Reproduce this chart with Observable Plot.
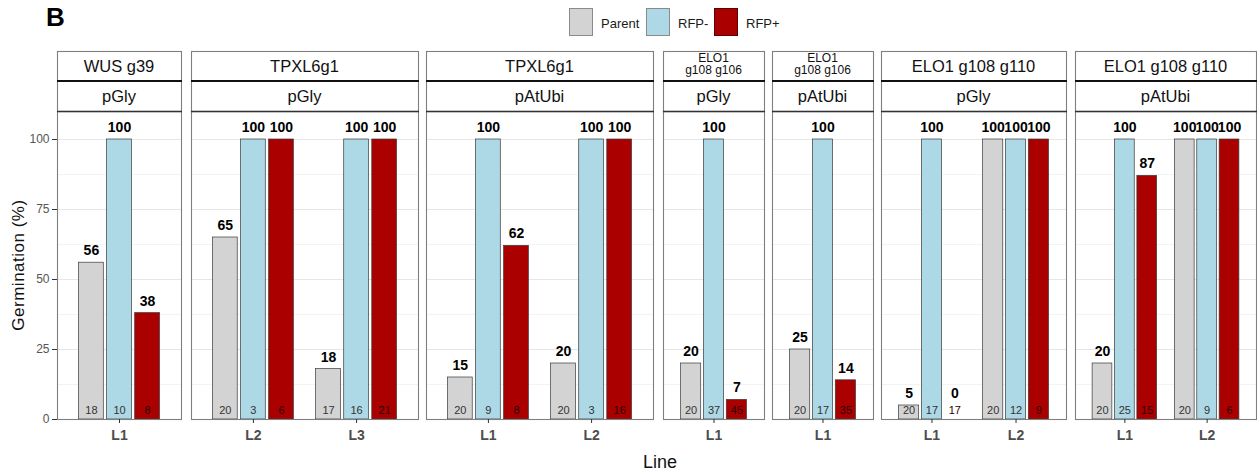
<!DOCTYPE html>
<html>
<head>
<meta charset="utf-8">
<script src="https://cdn.jsdelivr.net/npm/d3@7"></script>
<script src="https://cdn.jsdelivr.net/npm/@observablehq/plot@0.6"></script>
<style>
  html, body { margin: 0; padding: 0; background: #fff; }
  #fig { position: relative; width: 1257px; height: 474px; overflow: hidden;
         font-family: "Liberation Sans", Arial, Helvetica, sans-serif; }
  #fig svg { overflow: visible; }
  .panel { position: absolute; }
</style>
</head>
<body>
<div id="fig"></div>
<script>
// Treatment groups and their fills
const groups = ["Parent", "RFP-", "RFP+"];
const groupColors = ["#d3d3d3", "#add8e6", "#aa0000"];

// Facet labels: guide (top strip) and promoter (bottom strip)
const geneLabels = ["WUS g39", "TPXL6g1", "TPXL6g1", "ELO1\ng108 g106", "ELO1\ng108 g106", "ELO1 g108 g110", "ELO1 g108 g110"];
const promoterLabels = ["pGly", "pGly", "pAtUbi", "pGly", "pAtUbi", "pGly", "pAtUbi"];

// One entry per line: facet it belongs to and its name
const linePanel = [0, 1, 1, 2, 2, 3, 4, 5, 5, 6, 6];
const lineNames = ["L1", "L2", "L3", "L1", "L2", "L1", "L1", "L1", "L2", "L1", "L2"];

// Germination (%) per group
const parentPct   = [56, 65, 18, 15, 20, 20, 25, 5, 100, 20, 100];
const rfpMinusPct = [100, 100, 100, 100, 100, 100, 100, 100, 100, 100, 100];
const rfpPlusPct  = [38, 100, 100, 62, 100, 7, 14, 0, 100, 87, 100];

// Number of seeds per group
const parentN   = [18, 20, 17, 20, 20, 20, 20, 20, 20, 20, 20];
const rfpMinusN = [10, 3, 16, 9, 3, 37, 17, 17, 12, 25, 9];
const rfpPlusN  = [8, 6, 21, 8, 16, 45, 35, 17, 9, 15, 6];

const yTicks = [0, 25, 50, 75, 100];
const yMinor = [12.5, 37.5, 62.5, 87.5];

// Page layout (pixels)
const panelX0 = [57, 191, 426, 663, 772, 881, 1075];
const panelX1 = [181, 418, 653, 764, 873, 1066, 1256];
const stripTop = 51, stripMid = 81, panelTop = 111, panelBottom = 419;
const dodgeStep = 0.272, barWidth = 0.24;
const font = '"Liberation Sans", Arial, Helvetica, sans-serif';

// Long table of bars
const pctSeries = [parentPct, rfpMinusPct, rfpPlusPct];
const nSeries = [parentN, rfpMinusN, rfpPlusN];
const rows = [];
lineNames.forEach((line, i) => {
  const panel = linePanel[i];
  const slot = linePanel.slice(0, i).filter(p => p === panel).length;
  groups.forEach((group, g) => {
    rows.push({panel, slot, line, group, gi: g, pct: pctSeries[g][i], n: nSeries[g][i]});
  });
});

const fig = document.getElementById("fig");

function panelPlot(p) {
  const data = rows.filter(d => d.panel === p);
  const slots = [...new Set(data.map(d => d.slot))];
  const names = slots.map(s => data.find(d => d.slot === s).line);
  const n = slots.length;
  const ml = p === 0 ? 57 : 0;
  const W = panelX1[p] - panelX0[p];
  const center = d => d.slot + (d.gi - 1) * dodgeStep;
  const marks = [
    Plot.gridY(yMinor, {stroke: "#eeeeee", strokeOpacity: 1, strokeWidth: 0.7}),
    Plot.gridY(yTicks, {stroke: "#e6e6e6", strokeOpacity: 1, strokeWidth: 1.1}),
    Plot.rectY(data, {
      x1: d => center(d) - barWidth / 2,
      x2: d => center(d) + barWidth / 2,
      y1: 0, y2: "pct",
      fill: "group", stroke: "#3a3a3a", strokeWidth: 0.7
    }),
    Plot.text(data, {
      x: center, y: d => Math.max(d.pct, 5), text: d => String(d.pct),
      dy: -12, fontSize: 14, fontWeight: "bold", fill: "#000"
    }),
    Plot.text(data, {
      x: center, y: 0, text: d => String(d.n),
      dy: -9.5, fontSize: 11, fill: d => d.gi === 2 ? "#2a0000" : "#333"
    }),
    Plot.frame({stroke: "#7f7f7f", strokeWidth: 1.1}),
    Plot.axisX(slots, {
      tickFormat: i => names[i], tickSize: 4, tickPadding: 7,
      fontSize: 14, fontWeight: "bold", fill: "#4d4d4d", stroke: "#333", label: null
    })
  ];
  if (p === 0) {
    marks.push(Plot.axisY(yTicks, {
      tickSize: 5, tickPadding: 3, fontSize: 12, fill: "#555", stroke: "#333", label: null
    }));
  }
  return Plot.plot({
    width: W + ml,
    height: panelBottom - panelTop + 40,
    marginTop: 0, marginRight: 0, marginBottom: 40, marginLeft: ml,
    x: {type: "linear", domain: [-0.6, n - 0.4]},
    y: p === 0 ? {domain: [0, 110]} : {domain: [0, 110], axis: null},
    color: {domain: groups, range: groupColors},
    style: {fontFamily: font, fontSize: "12px", background: "transparent", overflow: "visible"},
    marks
  });
}

panelX0.forEach((x0, p) => {
  const holder = document.createElement("div");
  holder.className = "panel";
  holder.style.left = (x0 - (p === 0 ? 57 : 0)) + "px";
  holder.style.top = panelTop + "px";
  holder.appendChild(panelPlot(p));
  fig.appendChild(holder);
});

// Strips, legend and titles
const svg = d3.select(fig).append("svg")
  .attr("width", 1257).attr("height", 474)
  .style("position", "absolute").style("left", 0).style("top", 0)
  .style("pointer-events", "none")
  .attr("font-family", font);

svg.append("text").attr("x", 46).attr("y", 25.5)
  .attr("font-size", 26).attr("font-weight", "bold").text("B");

// Legend
const keyX = [569, 646, 714];
groups.forEach((g, i) => {
  svg.append("rect").attr("x", keyX[i] + 0.5).attr("y", 8.5).attr("width", 23).attr("height", 27)
    .attr("fill", groupColors[i]).attr("stroke", i === 2 ? "#5a0000" : "#8a8a8a").attr("stroke-width", 1);
  svg.append("text").attr("x", keyX[i] + 32).attr("y", 27.5)
    .attr("font-size", 13).attr("fill", "#1a1a1a").text(g);
});

// Facet strips
panelX0.forEach((x0, p) => {
  const x1 = panelX1[p];
  const cx = (x0 + x1) / 2;
  const g = svg.append("g");
  g.append("rect").attr("x", x0 + 0.5).attr("y", stripTop + 0.5)
    .attr("width", x1 - x0).attr("height", panelTop - stripTop)
    .attr("fill", "#fff").attr("stroke", "#7f7f7f").attr("stroke-width", 1.1);
  g.append("line").attr("x1", x0).attr("x2", x1 + 1).attr("y1", stripMid).attr("y2", stripMid)
    .attr("stroke", "#111").attr("stroke-width", 2);
  g.append("line").attr("x1", x0).attr("x2", x1 + 1).attr("y1", panelTop + 0.5).attr("y2", panelTop + 0.5)
    .attr("stroke", "#333").attr("stroke-width", 1.3);
  const parts = geneLabels[p].split("\n");
  if (parts.length === 1) {
    g.append("text").attr("x", cx).attr("y", 72.3).attr("text-anchor", "middle")
      .attr("font-size", 16.5).attr("fill", "#111").text(parts[0]);
  } else {
    parts.forEach((t, k) => {
      g.append("text").attr("x", cx).attr("y", 61.8 + k * 12.4).attr("text-anchor", "middle")
        .attr("font-size", 12).attr("fill", "#111").text(t);
    });
  }
  g.append("text").attr("x", cx).attr("y", 102.3).attr("text-anchor", "middle")
    .attr("font-size", 16.5).attr("fill", "#111").text(promoterLabels[p]);
});

// Axis titles
svg.append("text").attr("transform", "translate(24,265) rotate(-90)")
  .attr("text-anchor", "middle").attr("font-size", 17).attr("letter-spacing", 0.5)
  .attr("fill", "#111").text("Germination (%)");
svg.append("text").attr("x", 660).attr("y", 468).attr("text-anchor", "middle")
  .attr("font-size", 18).attr("fill", "#111").text("Line");
</script>
</body>
</html>
